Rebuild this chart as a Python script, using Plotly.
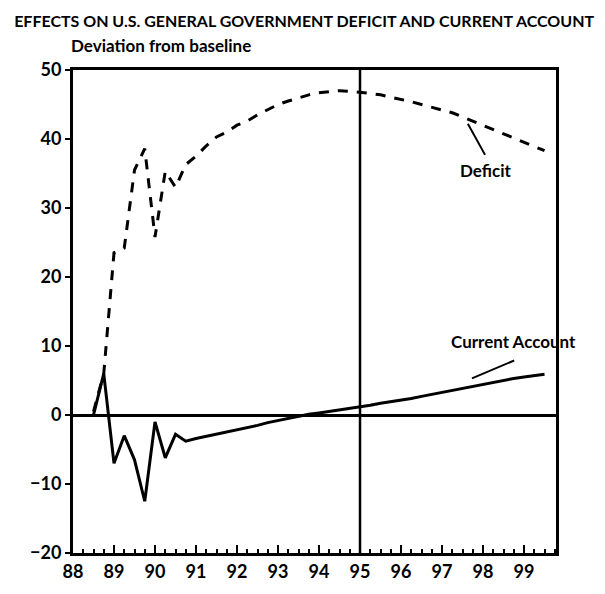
import plotly.graph_objects as go

# quarterly time axis, 1988Q3 .. 1999Q3
quarters = [88.5 + 0.25 * i for i in range(45)]

current_account = [0, 6, -7, -3, -6.5, -12.5, -1, -6.2, -2.8, -3.8,
                   -3.4, -3.1, -2.8, -2.5, -2.2, -1.9, -1.5, -1.1, -0.8, -0.4,
                   -0.1, 0.1, 0.3, 0.5, 0.7, 0.9, 1.1, 1.4, 1.7, 1.9,
                   2.1, 2.4, 2.7, 3.0, 3.3, 3.6, 3.9, 4.2, 4.5, 4.8,
                   5.0, 5.3, 5.5, 5.7, 5.9]

deficit = [0.5, 6, 23.5, 24.2, 35.5, 38.6, 25.8, 35.3, 33, 36.3,
           37.5, 39, 40.3, 41, 42, 42.6, 43.5, 44.3, 45, 45.5,
           46, 46.4, 46.7, 46.9, 47, 46.9, 46.8, 46.6, 46.4, 46.1,
           45.8, 45.4, 45.0, 44.6, 44.2, 43.8, 43.2, 42.6, 42.0, 41.4,
           40.8, 40.2, 39.6, 38.9, 38.3]

year_ticks = list(range(88, 100))
year_labels = [str(y) for y in year_ticks]
y_ticks = [-20, -10, 0, 10, 20, 30, 40, 50]

FONT = "Lato, Roboto, sans-serif"

fig = go.Figure()
fig.add_trace(go.Scatter(x=quarters, y=deficit, mode='lines', name='Deficit',
                         line=dict(color='black', width=3, dash='10px,9px')))
fig.add_trace(go.Scatter(x=quarters, y=current_account, mode='lines', name='Current Account',
                         line=dict(color='black', width=3)))

# vertical marker at 1995
fig.add_shape(type='line', xref='x', yref='paper', x0=95, x1=95, y0=0, y1=1,
              line=dict(color='black', width=2.5))

# leader lines for the labels
fig.add_shape(type='line', xref='x', yref='y', x0=97.63, y0=42.2, x1=98.05, y1=37.7,
              line=dict(color='black', width=2))
fig.add_shape(type='line', xref='x', yref='y', x0=97.73, y0=5.3, x1=98.76, y1=7.9,
              line=dict(color='black', width=2))

fig.add_annotation(x=98.05, y=35.4, text='Deficit', showarrow=False,
                   font=dict(family=FONT, size=17, color='black', weight='bold'))
fig.add_annotation(x=98.75, y=10.7, text='Current Account', showarrow=False,
                   font=dict(family=FONT, size=17, color='black', weight='bold'))
fig.add_annotation(xref='paper', yref='paper', x=-0.008, y=1.05,
                   xanchor='left', yanchor='middle',
                   text='Deviation from baseline', showarrow=False,
                   font=dict(family=FONT, size=17, color='black', weight='bold'))

fig.update_layout(
    width=597, height=586,
    margin=dict(l=65, r=49, t=62, b=36),
    plot_bgcolor='white', paper_bgcolor='white',
    showlegend=False,
    title=dict(text='EFFECTS ON U.S. GENERAL GOVERNMENT DEFICIT AND CURRENT ACCOUNT',
               x=0.496, xanchor='center', y=0.977, yanchor='middle',
               font=dict(family=FONT, size=16, color='black', weight='bold')),
    font=dict(family=FONT, color='black'),
)

fig.update_xaxes(range=[88, 99.78], tickvals=year_ticks, ticktext=year_labels,
                 ticks='inside', ticklen=8, tickwidth=2, tickcolor='black',
                 minor=dict(dtick=0.25, tick0=88, ticks='inside', ticklen=4, tickwidth=1.5,
                            tickcolor='black', showgrid=False),
                 showgrid=False, zeroline=False,
                 showline=True, linewidth=3, linecolor='black', mirror=True,
                 tickfont=dict(family=FONT, size=18, color='black', weight='bold'))
fig.update_yaxes(range=[-20, 50], tickvals=y_ticks,
                 ticks='outside', ticklen=5, tickwidth=2, tickcolor='black',
                 showgrid=False, zeroline=True, zerolinewidth=3, zerolinecolor='black',
                 showline=True, linewidth=3, linecolor='black', mirror=True,
                 tickfont=dict(family=FONT, size=18, color='black', weight='bold'))

fig.write_html("out.html")
